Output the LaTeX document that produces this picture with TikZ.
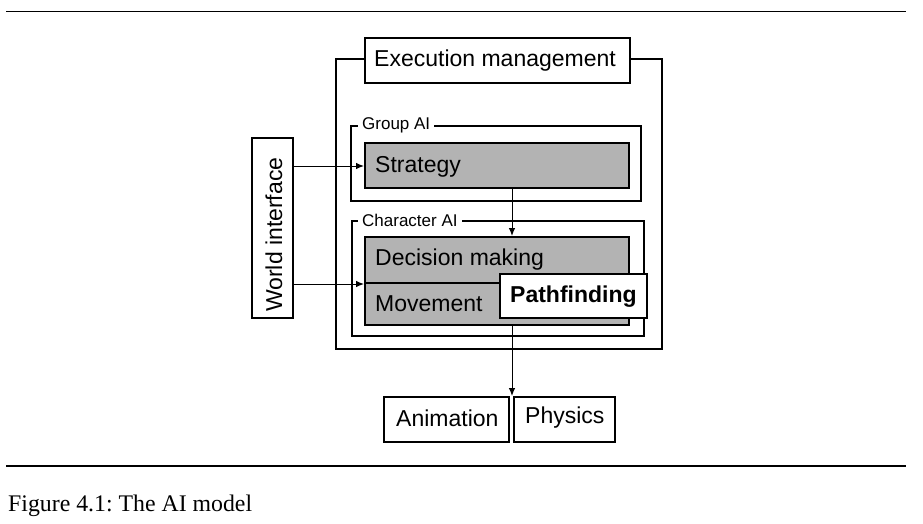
\documentclass[tikz,border=0pt]{standalone}
\usepackage{fontspec}
\setmainfont{Liberation Serif}
\newfontfamily\diagsans{Liberation Sans}
\usetikzlibrary{arrows.meta,calc}
\frenchspacing
\begin{document}
\begin{tikzpicture}[x=1pt,y=-1pt,
  box/.style={draw=black,line width=2pt,fill=white,inner sep=0pt,anchor=north west},
  gbox/.style={box,fill=gray70},
  frame/.style={draw=black,line width=1.4pt},
  big/.style={font=\diagsans\fontsize{23}{27}\selectfont,inner sep=0pt,anchor=base west},
  small/.style={font=\diagsans\fontsize{17}{20}\selectfont,inner xsep=4pt,inner ysep=2pt,anchor=base west,fill=white},
  arr/.style={line width=1pt,-{Latex[length=8pt,width=6.5pt]}},
  rule/.style={line width=1.2pt}]
\definecolor{gray70}{RGB}{179,179,179}
\useasboundingbox (0,0) rectangle (923,524);
% rules
\coordinate (rt1) at (6,11.5); \coordinate (rt2) at (906,11.5);
\coordinate (rb1) at (6,466); \coordinate (rb2) at (906,466);
\draw[rule] (rt1) -- (rt2);
\draw[rule] (rb1) -- (rb2);
% outer execution frame
\draw[frame] (336,59) rectangle (662,349);
\node[box,minimum width=265,minimum height=45] (exec) at (364,37) {};
\node[big] (exect) at (374,67) {Execution management};
% group AI
\draw[frame] (351,126) rectangle (641,201);
\node[small] (grp) at (358,129) {Group AI};
\node[gbox,minimum width=264,minimum height=45] (strat) at (364,142) {};
\node[big] (stratt) at (375,172) {Strategy};
% character AI
\draw[frame] (352,221) rectangle (644,336);
\node[small] (chr) at (358,226) {Character AI};
\node[gbox,minimum width=264,minimum height=46] (dec) at (364,236) {};
\node[big] (dect) at (375,265) {Decision making};
\node[gbox,minimum width=264,minimum height=42] (mov) at (364,282) {};
\node[big] (movt) at (375,311) {Movement};
\node[box,minimum width=147,minimum height=44] (path) at (499,273) {};
\node[big,font=\diagsans\bfseries\fontsize{23}{27}\selectfont] (patht) at (510,302) {Pathfinding};
% world interface
\node[box,minimum width=41,minimum height=180] (world) at (251,137) {};
\node[big,rotate=90] (worldt) at (282,312) {World interface};
% bottom
\node[box,minimum width=125,minimum height=45] (anim) at (383,396) {};
\node[big] (animt) at (396,426) {Animation};
\node[box,minimum width=101,minimum height=45] (phys) at (513,396) {};
\node[big] (physt) at (525,423) {Physics};
\coordinate (mid) at (512,396);
% connectors
\draw[arr] (world.east |- 0,166) -- (strat.west |- 0,166);
\draw[arr] (world.east |- dec.south west) -- (dec.south west);
\draw[arr] (strat.south -| mid) -- (dec.north -| mid);
\draw[arr] (mov.south -| mid) -- (mid);
% caption
\node[font=\fontsize{23.8}{28}\selectfont,inner sep=0pt,anchor=base west] (cap) at (8,511) {Figure 4.1: The AI model};
\end{tikzpicture}
\end{document}
